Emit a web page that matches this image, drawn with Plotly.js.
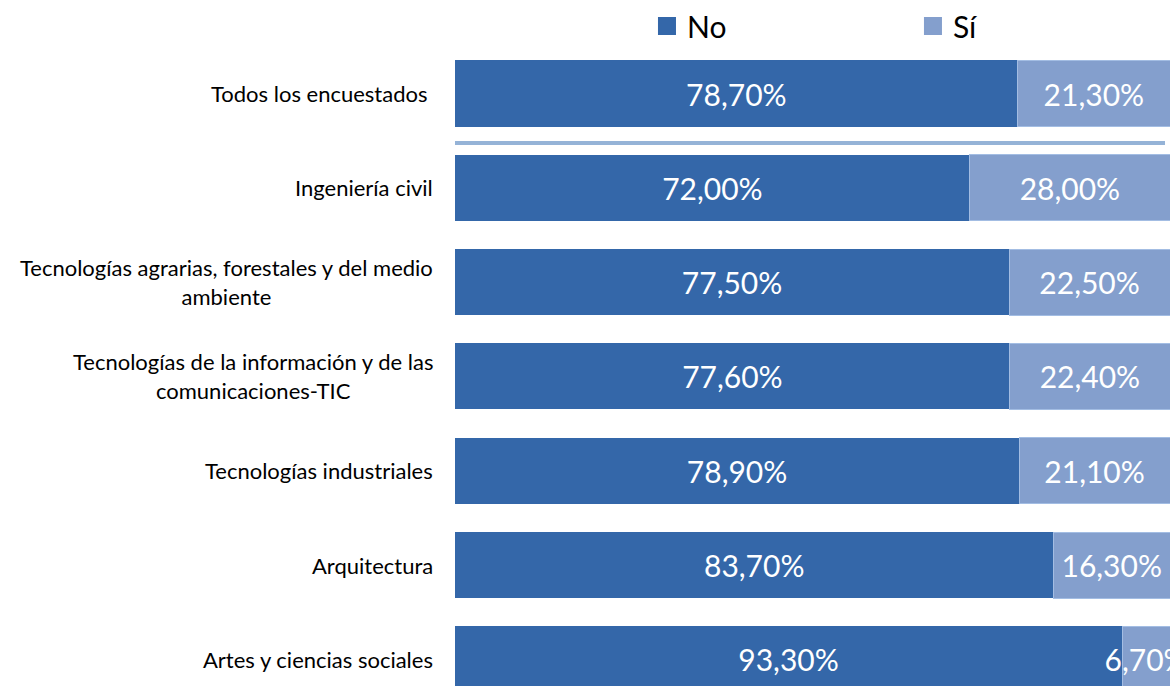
<!DOCTYPE html>
<html>
<head>
<meta charset="utf-8">
<script src="https://cdn.plot.ly/plotly-3.0.1.min.js"></script>
<style>html,body{margin:0;padding:0;background:#fff;}#chart{width:1173px;height:686px;}</style>
</head>
<body>
<div id="chart"></div>
<script>
const categories = [
  "Todos los encuestados ",
  "Ingeniería civil",
  "Tecnologías agrarias, forestales y del medio<br>ambiente",
  "Tecnologías de la información y de las<br>comunicaciones-TIC",
  "Tecnologías industriales",
  "Arquitectura",
  "Artes y ciencias sociales"
];
const noValues = [78.7, 72.0, 77.5, 77.6, 78.9, 83.7, 93.3];
const siValues = [21.3, 28.0, 22.5, 22.4, 21.1, 16.3, 6.7];
const seriesNames = ["No", "Sí"];

const pos = categories.map((c, i) => i);
const FONT = 'Lato, sans-serif';

const common = {
  type: 'bar',
  orientation: 'h',
  y: pos,
  width: 0.70,
  texttemplate: '%{x:.2f}%',
  textposition: 'inside',
  insidetextanchor: 'middle',
  textangle: 0,
  constraintext: 'none',
  cliponaxis: false,
  textfont: {color: '#ffffff', size: 30, family: FONT},
  hoverinfo: 'skip',
  showlegend: false
};

const traces = [
  Object.assign({}, common, {
    name: seriesNames[0], x: noValues,
    marker: {color: '#3467a9', line: {width: 0}}
  }),
  Object.assign({}, common, {
    name: seriesNames[1], x: siValues,
    marker: {color: '#849fcd', line: {color: '#a3bde3', width: 1}}
  }),
  {type: 'scatter', mode: 'markers', x: [null], y: [null], name: seriesNames[0],
   legend: 'legend', showlegend: true, hoverinfo: 'skip',
   marker: {symbol: 'square', size: 20, color: '#3467a9', line: {color: '#3467a9', width: 2}}},
  {type: 'scatter', mode: 'markers', x: [null], y: [null], name: seriesNames[1],
   legend: 'legend2', showlegend: true, hoverinfo: 'skip',
   marker: {symbol: 'square', size: 20, color: '#849fcd', line: {color: '#849fcd', width: 2}}}
];

const annotations = categories.map((c, i) => ({
  text: c, xref: 'paper', yref: 'y', x: -0.028, y: pos[i],
  xanchor: 'right', yanchor: 'middle', align: 'center', showarrow: false,
  font: {size: 22, color: '#000000', family: FONT}
}));

const legendBase = {
  orientation: 'h', yref: 'paper', y: 1.0, yanchor: 'top', xanchor: 'left',
  font: {size: 30, color: '#000000', family: FONT},
  bgcolor: 'rgba(0,0,0,0)', itemsizing: 'trace'
};

const layout = {
  width: 1173, height: 686,
  margin: {l: 455, r: 3, t: 0, b: 0},
  barmode: 'stack',
  separators: ',.',
  paper_bgcolor: '#ffffff',
  plot_bgcolor: '#ffffff',
  font: {family: FONT, color: '#000000'},
  showlegend: true,
  legend: Object.assign({}, legendBase, {x: 0.2685}),
  legend2: Object.assign({}, legendBase, {x: 0.6405}),
  xaxis: {range: [0, 100], showgrid: false, zeroline: false, showticklabels: false, showline: false, fixedrange: true},
  yaxis: {
    range: [6.283, -0.9915],
    showgrid: false, zeroline: false, showline: false, ticks: '', showticklabels: false
  },
  annotations: annotations,
  shapes: [{
    type: 'line', xref: 'x', yref: 'y', x0: 0, x1: 99.3, y0: 0.525, y1: 0.525,
    line: {color: '#95b3d7', width: 4}
  }]
};

Plotly.newPlot('chart', traces, layout, {displayModeBar: false, staticPlot: true});
</script>
</body>
</html>
